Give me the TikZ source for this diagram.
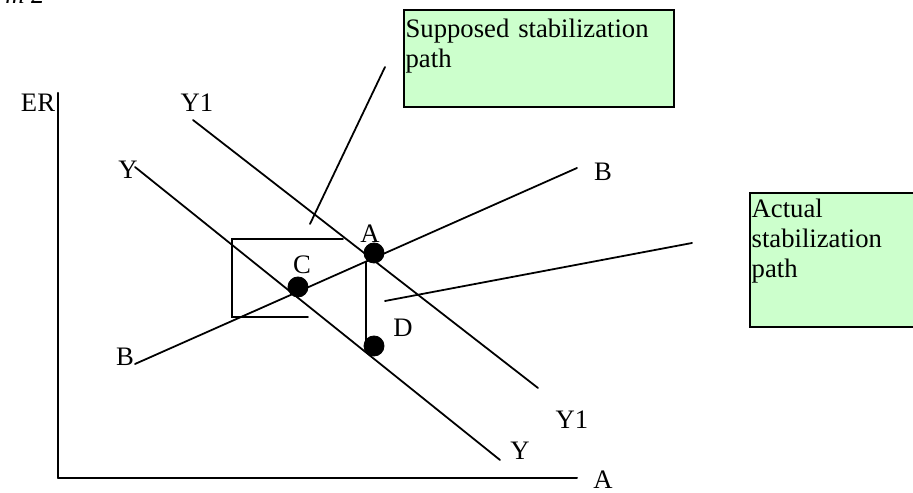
\documentclass[tikz,border=0pt]{standalone}
\usepackage{fontspec}
\setmainfont{Liberation Serif}
\usepackage{tkz-euclide}
\definecolor{NoteClr}{RGB}{204,255,204}
\tikzset{
  lbl/.style={inner sep=0pt},
  notebox/.style={draw=black,line width=1pt,fill=NoteClr,inner sep=0pt,anchor=north west},
  notetext/.style={anchor=north west,align=left,inner xsep=1pt}
}

\begin{document}
\begin{tikzpicture}[x=45pt,y=45pt,font=\fontsize{12}{13.5}\selectfont]
\useasboundingbox (0,0) rectangle (9.13,4.93);
\tkzSetUpLine[line width=0.8pt,color=black]
\tkzSetUpPoint[fill=black,color=black]

% axes
\tkzDefPoints{0.58/0.15/O,0.58/4.00/ER,5.77/0.15/Ax}
% curves Y, Y1 and B
\tkzDefPoints{1.93/3.73/Y1s,5.38/1.05/Y1e,1.35/3.26/Ys,5.00/0.33/Ye}
\tkzDefPoints{1.35/1.29/Bs,5.77/3.25/Be}
% equilibria
\tkzDefPoints{3.74/2.40/A,2.98/2.06/C,3.74/1.47/D}
\tkzDefPoints{3.66/2.31/V1,3.66/1.48/V2}
% supposed path
\tkzDefPoints{3.43/2.54/R1,2.32/2.54/R2,2.32/1.76/R3,3.08/1.76/R4}
% callouts
\tkzDefPoints{3.10/2.69/S1,3.85/4.26/S2,3.85/1.92/T1,6.92/2.50/T2}

\tkzDrawSegments[line width=0.9pt](O,ER O,Ax)
\tkzDrawSegments(Y1s,Y1e Ys,Ye Bs,Be)
\tkzDrawSegments(V1,V2)
\tkzDrawPolySeg(R1,R2,R3,R4)
\tkzDrawSegments(S1,S2 T1,T2)

\tkzDrawPoints[size=9](A,C,D)

\node[lbl] (lER) at (0.38,3.90) {ER};
\node[lbl] (lY1a) at (1.97,3.90) {Y1};
\node[lbl] (lYa) at (1.28,3.23) {Y};
\node[lbl] (lBa) at (1.25,1.36) {B};
\node[lbl] (lBb) at (6.03,3.21) {B};
\node[lbl] (lAx) at (6.03,0.13) {A};
\node[lbl] (lY1b) at (5.72,0.73) {Y1};
\node[lbl] (lYb) at (5.20,0.42) {Y};
\node[lbl] (lA) at (3.70,2.59) {A};
\node[lbl] (lC) at (3.02,2.28) {C};
\node[lbl] (lD) at (4.03,1.65) {D};

\node[anchor=base east,inner sep=0pt,font=\fontsize{12}{13.5}\selectfont\itshape] (capt) at (0.45,4.89) {m 2};

\node[notebox,minimum width=121.5pt,minimum height=43.65pt] (supbox) at (4.03,4.84) {};
\node[notetext,inner ysep=4.4pt,text width=118pt] (suptext) at (supbox.north west) {Supposed stabilization\\path};
\node[notebox,minimum width=75pt,minimum height=60.3pt] (actbox) at (7.49,3.01) {};
\node[notetext,inner ysep=3pt,text width=72pt] (acttext) at (actbox.north west) {Actual\\stabilization\\path};
\end{tikzpicture}
\end{document}
